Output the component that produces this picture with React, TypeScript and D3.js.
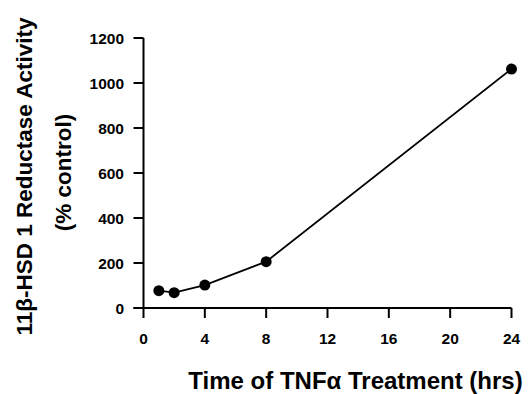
import * as React from "react";
import * as d3 from "d3";

const hours = [1, 2, 4, 8, 24];
const activity = [77, 68, 102, 206, 1062];
const xTicks = [0, 4, 8, 12, 16, 20, 24];
const yTicks = [0, 200, 400, 600, 800, 1000, 1200];

const W = 528;
const H = 394;
const FONT = "'Liberation Sans', Arial, sans-serif";

export default function App() {
  const x = d3.scaleLinear().domain([0, 24]).range([143.5, 511.5]);
  const y = d3.scaleLinear().domain([0, 1200]).range([308, 38]);
  const pts = hours.map((h, i) => ({ h, v: activity[i] }));
  const line = d3
    .line<{ h: number; v: number }>()
    .x((d) => x(d.h))
    .y((d) => y(d.v));

  return (
    <svg
      width={W}
      height={H}
      style={{ position: "absolute", left: 0, top: 0, background: "#fff" }}
      fontFamily={FONT}
      fontWeight="bold"
    >
      {/* y axis */}
      <line x1={x(0)} x2={x(0)} y1={y(1200)} y2={y(0)} stroke="#000" strokeWidth={2} />
      {yTicks.map((t) => (
        <g key={t}>
          <line x1={x(0) - 10} x2={x(0)} y1={y(t)} y2={y(t)} stroke="#000" strokeWidth={2} />
          <text x={124} y={y(t)} dy="0.36em" textAnchor="end" fontSize={15.5}>
            {t}
          </text>
        </g>
      ))}
      {/* x axis */}
      <line x1={x(0) - 10} x2={x(24)} y1={y(0)} y2={y(0)} stroke="#000" strokeWidth={2} />
      {xTicks.map((t) => (
        <g key={t}>
          <line x1={x(t)} x2={x(t)} y1={y(0)} y2={y(0) + 10} stroke="#000" strokeWidth={2} />
          <text x={x(t)} y={343.5} textAnchor="middle" fontSize={15.5}>
            {t}
          </text>
        </g>
      ))}

      <path d={line(pts) || ""} fill="none" stroke="#000" strokeWidth={1.8} />
      {pts.map((d, i) => (
        <circle key={i} cx={x(d.h)} cy={y(d.v)} r={5.5} fill="#000" />
      ))}

      {/* axis titles */}
      <text transform="translate(32,176.5) rotate(-90)" textAnchor="middle" fontSize={22.5}>
        11β-HSD 1 Reductase Activity
      </text>
      <text transform="translate(71,172.5) rotate(-90)" textAnchor="middle" fontSize={22.5}>
        (% control)
      </text>
      <text x={355.5} y={389} textAnchor="middle" fontSize={24}>
        Time of TNFα Treatment (hrs)
      </text>
    </svg>
  );
}
